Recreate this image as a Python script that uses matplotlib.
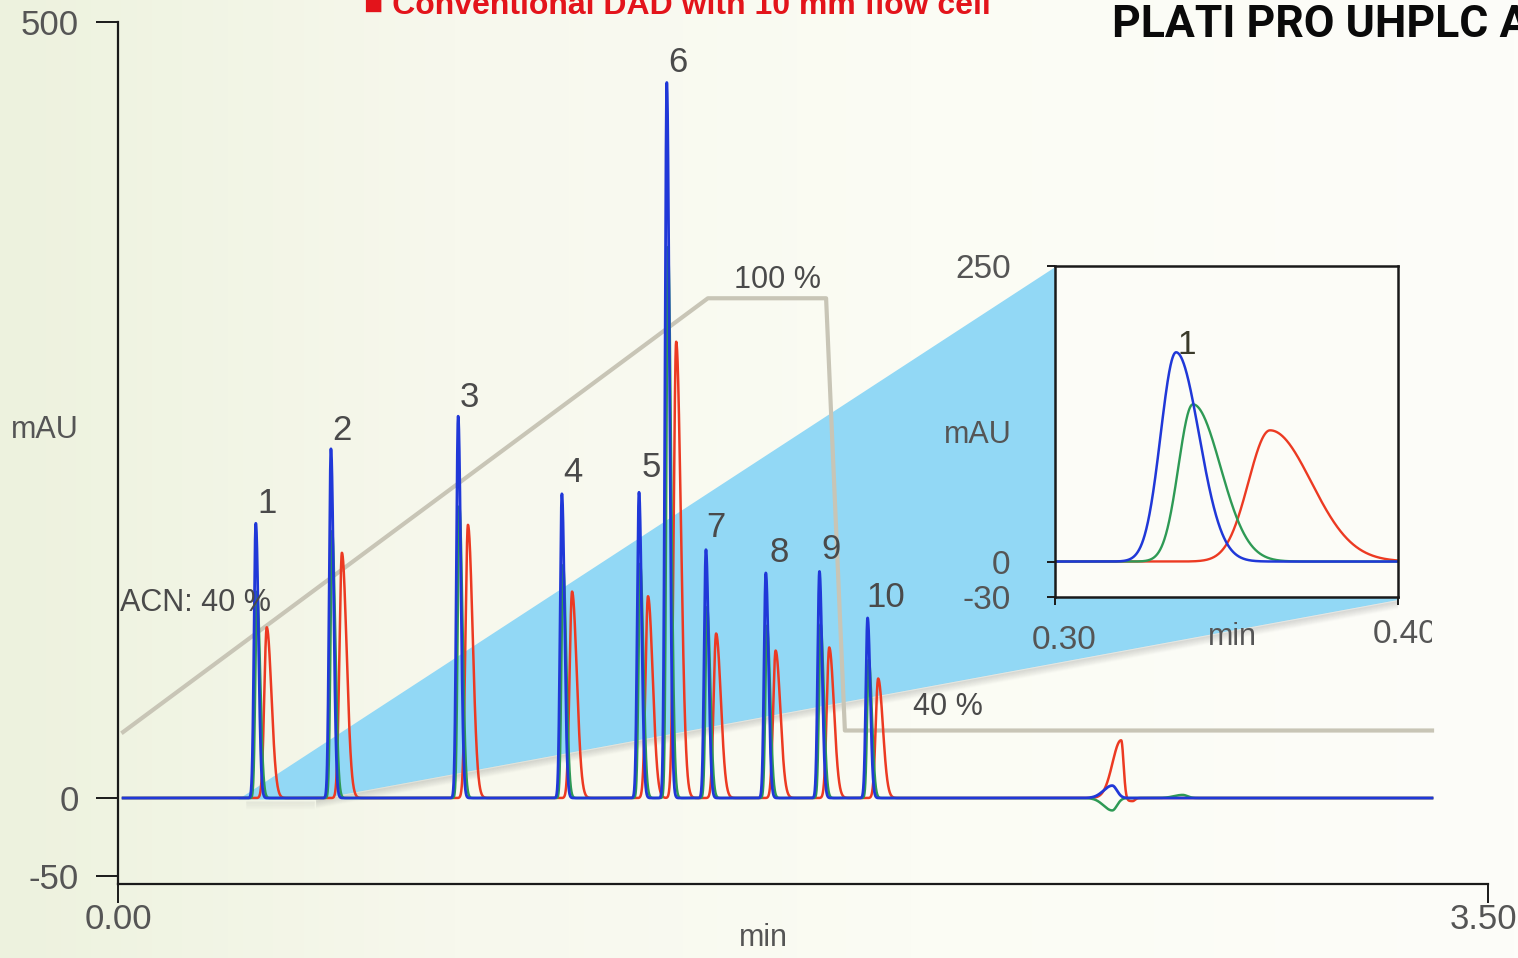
import numpy as np
import matplotlib
matplotlib.use('Agg')
import matplotlib.pyplot as plt
from matplotlib.patches import Polygon
from matplotlib.transforms import Bbox, TransformedBbox, ScaledTranslation

plt.rcParams['font.family'] = ['Liberation Sans', 'DejaVu Sans']

# peak table: retention time (min), height (mAU)
peak_names = ['1', '2', '3', '4', '5', '6', '7', '8', '9', '10']
blue_rt = [0.352, 0.544, 0.869, 1.134, 1.331, 1.402, 1.502, 1.655, 1.792, 1.915]
blue_h = [177, 225, 246, 196, 197, 461, 160, 145, 146, 116]
green_rt = [0.355, 0.547, 0.872, 1.137, 1.334, 1.405, 1.505, 1.658, 1.795, 1.918]
green_h = [133, 172, 188, 150, 151, 355, 123, 111, 112, 89]
red_rt = [0.380, 0.572, 0.894, 1.160, 1.354, 1.426, 1.528, 1.680, 1.817, 1.942]
red_h = [110, 158, 176, 133, 130, 294, 106, 95, 97, 77]

# baseline disturbance around 2.55 min
blue_dist_rt, blue_dist_h = [2.540], [8]
green_dist_rt, green_dist_h = [2.540, 2.720], [-8, 2]
red_dist_rt, red_dist_h = [2.563, 2.592], [38, -2]

# zoomed view of peak 1
inset_blue_rt, inset_blue_h = [0.3353], [177]
inset_green_rt, inset_green_h = [0.3402], [133]
inset_red_rt, inset_red_h = [0.3627], [111]

# ACN gradient programme (drawn on the mAU scale)
grad_t = [0.013, 1.507, 1.809, 1.857, 3.357]
grad_y = [42.5, 322, 322, 43.5, 43.5]

label_pos = [(0.381, 190), (0.572, 237), (0.897, 258), (1.162, 210), (1.362, 213),
             (1.431, 474), (1.528, 174), (1.689, 158), (1.822, 160), (1.962, 129)]

BLUE, GREEN, RED = '#2038d8', '#2e9a55', '#ec3a22'
TXT = '#4a4a4a'
W, H = 1518, 958


def trace(t, rts, hs, sl, sr):
    y = np.zeros_like(t)
    for rt, h in zip(rts, hs):
        s = np.where(t < rt, sl, sr)
        y += h * np.exp(-0.5 * ((t - rt) / s) ** 2)
    return y


fig = plt.figure(figsize=(W / 100, H / 100), dpi=100)

# soft page background
bg = fig.add_axes([0, 0, 1, 1], zorder=-10)
xx = np.linspace(0, 1, 400)
yy = np.linspace(0, 1, 60)[:, None]
r = np.interp(xx, [0, 0.3, 0.6, 1], [237, 247, 251, 253]) + 0 * yy
g = np.interp(xx, [0, 0.3, 0.6, 1], [242, 248, 252, 253]) + 0 * yy
b = np.interp(xx, [0, 0.3, 0.6, 1], [222, 237, 244, 249]) + 0 * yy
bg.imshow(np.dstack([r, g, b]).astype(np.uint8), aspect='auto', extent=[0, 1, 0, 1])
bg.axis('off')

ax = fig.add_axes([118 / W, (H - 884) / H, 1370 / W, 862 / H])
ax.patch.set_alpha(0)
ax.set_xlim(0, 3.5)
ax.set_ylim(-55.4, 500)
for s in ['top', 'right']:
    ax.spines[s].set_visible(False)
for s in ['left', 'bottom']:
    ax.spines[s].set_linewidth(1.6)
    ax.spines[s].set_color('#1a1a1a')
ax.set_xticks([0, 3.5], ['0.00', '3.50'])
ax.set_yticks([-50, 0, 500], ['-50', '0', '500'])
ax.tick_params(axis='y', direction='out', length=16, width=1.4, color='#1a1a1a',
               labelcolor='#555555', labelsize=25, pad=12)
ax.tick_params(axis='x', direction='out', length=14, width=1.4, color='#1a1a1a',
               labelcolor='#555555', labelsize=25, pad=0)
# keep "3.50" inside the frame
last = ax.xaxis.get_major_ticks()[1].label1
last.set_transform(last.get_transform() + ScaledTranslation(-5 / 100, 0, fig.dpi_scale_trans))
ax.set_xlabel('min', fontsize=22, color='#555555', va='center')
ax.xaxis.set_label_coords((763 - 118) / 1370, -(938 - 884) / 862)
ax.set_ylabel('mAU', fontsize=22, color='#555555', rotation=0, va='center', ha='center')
ax.yaxis.set_label_coords(-(118 - 45) / 1370, (884 - 430) / 862)

# zoom wedge towards the inset, with a soft shadow on its lower edge
wedge = Polygon([(0.307, -1), (2.394, 342), (3.270, 127.6), (0.506, -1)],
                closed=True, facecolor='#92d8f5', edgecolor='none', zorder=1)
ax.add_patch(wedge)
for k in range(1, 9):
    off = k * 0.65
    ax.plot([0.506, 3.27], [-1 - off, 127.6 - off], color='#7a7a7a',
            alpha=0.16 * (1 - k / 9), lw=1.6, zorder=1, solid_capstyle='butt')
    ax.plot([0.33, 0.50], [-2 - off, -2 - off], color='#8a8a8a',
            alpha=0.07 * (1 - k / 9), lw=1.6, zorder=1, solid_capstyle='round')

ax.plot(grad_t, grad_y, color='#c8c5b6', lw=3.0, zorder=2)

t = np.linspace(0.013, 3.357, 20000)
y_red = trace(t, red_rt, red_h, 0.0063, 0.012) + trace(t, red_dist_rt, red_dist_h, 0.022, 0.006)
y_green = trace(t, green_rt, green_h, 0.0042, 0.008) + trace(t, green_dist_rt, green_dist_h, 0.022, 0.012)
y_blue = trace(t, blue_rt, blue_h, 0.0045, 0.0067) + trace(t, blue_dist_rt, blue_dist_h, 0.022, 0.012)
ax.plot(t, y_red, color=RED, lw=1.8, zorder=3)
ax.plot(t, y_green, color=GREEN, lw=1.8, zorder=4)
ax.plot(t, y_blue, color=BLUE, lw=2.0, zorder=5)

for name, (lx, ly) in zip(peak_names, label_pos):
    ax.text(lx, ly, name, fontsize=25, color=TXT, ha='center', va='center', zorder=6)

ax.text(0.006, 125.6, 'ACN: 40 %', fontsize=22, color=TXT, ha='left', va='center', zorder=6)
ax.text(1.686, 334, '100 %', fontsize=22, color=TXT, ha='center', va='center', zorder=6)
ax.text(2.12, 58.6, '40 %', fontsize=22, color=TXT, ha='center', va='center', zorder=6)

# inset: peak 1 enlarged
ax_in = fig.add_axes([1055 / W, (H - 597) / H, 343 / W, 331 / H])
ax_in.set_facecolor('#fcfcf7')
ax_in.set_xlim(0.30, 0.40)
ax_in.set_ylim(-30, 250)
for s in ax_in.spines.values():
    s.set_linewidth(1.8)
    s.set_color('#1a1a1a')
ax_in.set_xticks([0.30, 0.40], ['0.30', ''])
ax_in.set_yticks([-30, 0, 250], ['-30', '0', '250'])
ax_in.tick_params(direction='out', length=6, width=1.4, color='#1a1a1a',
                  labelcolor='#555555', labelsize=24)
ax_in.tick_params(axis='y', pad=26)
ax_in.tick_params(axis='x', pad=14)
first = ax_in.xaxis.get_major_ticks()[0].label1
first.set_transform(first.get_transform() + ScaledTranslation(9 / 100, 0, fig.dpi_scale_trans))
ax_in.set_xlabel('min', fontsize=22, color='#555555', va='center')
ax_in.xaxis.set_label_coords((1232 - 1055) / 343, -(637 - 597) / 331)
ax_in.set_ylabel('mAU', fontsize=22, color='#555555', rotation=0, va='center', ha='center')
ax_in.yaxis.set_label_coords(-(1055 - 978) / 343, (597 - 435) / 331)

lab = ax_in.text(0.402, -49, '0.40', fontsize=24, color='#555555', ha='center', va='top')
lab.set_clip_box(TransformedBbox(Bbox.from_extents(0, 0, 1432 / W, 1), fig.transFigure))
lab.set_clip_on(True)

ti = np.linspace(0.30, 0.40, 1500)
ax_in.plot(ti, trace(ti, inset_red_rt, inset_red_h, 0.0063, 0.012), color=RED, lw=1.7)
ax_in.plot(ti, trace(ti, inset_green_rt, inset_green_h, 0.0042, 0.008), color=GREEN, lw=1.7)
ax_in.plot(ti, trace(ti, inset_blue_rt, inset_blue_h, 0.0045, 0.0067), color=BLUE, lw=1.8)
ax_in.text(0.3385, 183, '1', fontsize=24, color='#3a3a2a', ha='center', va='center')

# page header pieces (cut by the frame)
fig.text(364 / W, 1 - 14 / H, '\u25a0 Conventional DAD with 10 mm flow cell', fontsize=23,
         fontweight='bold', color='#e3141b', ha='left', va='baseline')
fig.text(1112 / W, 1 - 25 / H, 'PLATI PRO UHPLC A', fontsize=32, fontweight='bold',
         color='#0a0a0a', ha='left', va='center', family=['Roboto', 'DejaVu Sans'])

fig.savefig('out.png', dpi=100)
